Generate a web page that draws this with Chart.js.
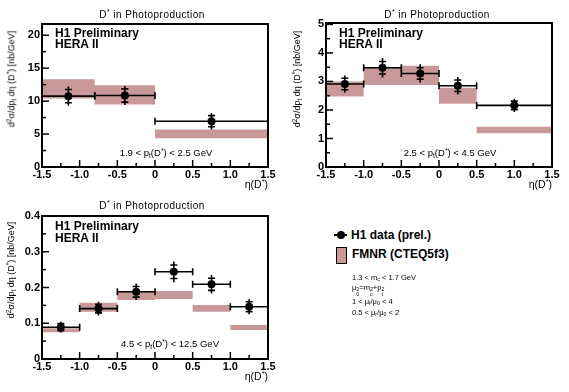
<!DOCTYPE html>
<html>
<head>
<meta charset="utf-8">
<script src="https://cdn.jsdelivr.net/npm/chart.js@4.4.0/dist/chart.umd.min.js"></script>
<style>
body { margin: 0; background: #fff; font-family: "Liberation Sans", Arial, sans-serif; color: #000; }
#page { position: relative; width: 569px; height: 392px; overflow: hidden; }
canvas { position: absolute; }
.t { position: absolute; white-space: nowrap; line-height: 1; }
.c { transform: translate(-50%, -50%); }
.l { transform: translate(0, -50%); }
.r { transform: translate(-100%, -50%); }
.title { font-size: 10px; letter-spacing: 0.45px; }
.big { font-size: 12px; font-weight: bold; }
.pt { font-size: 9.5px; }
.eta { font-size: 10.5px; }
.ylab { font-size: 9px; transform: translate(-50%, -50%) rotate(-90deg); }
.small { font-size: 7.5px; filter: grayscale(100%); }
.sup { font-size: 70%; vertical-align: 0.5em; }
.sub { font-size: 70%; vertical-align: -0.3em; }
.stk { display: inline-flex; flex-direction: column; font-size: 70%; line-height: 0.9; vertical-align: -0.25em; }
</style>
</head>
<body>
<div id="page">
  <canvas id="c1" width="285" height="195" style="left:0;top:0"></canvas>
  <canvas id="c2" width="284" height="195" style="left:285px;top:0"></canvas>
  <canvas id="c3" width="285" height="197" style="left:0;top:195px"></canvas>

  <!-- panel 1 -->
  <div class="t c title" style="left:152px;top:14px">D<span class="sup">*</span> in Photoproduction</div>
  <div class="t l big" style="left:55px;top:33px">H1 Preliminary</div>
  <div class="t l big" style="left:55px;top:44px">HERA II</div>
  <div class="t c pt" style="left:166px;top:154px">1.9 &lt; p<span class="sub">t</span>(D<span class="sup">*</span>) &lt; 2.5 GeV</div>
  <div class="t ylab" style="left:12px;top:79px">d<span class="sup">2</span>σ/dp<span class="sub">t</span> dη (D<span class="sup">*</span>) [nb/GeV]</div>
  <div class="t r eta" style="left:268px;top:184px">η(D<span class="sup">*</span>)</div>

  <!-- panel 2 -->
  <div class="t c title" style="left:437px;top:14px">D<span class="sup">*</span> in Photoproduction</div>
  <div class="t l big" style="left:339px;top:33px">H1 Preliminary</div>
  <div class="t l big" style="left:339px;top:44px">HERA II</div>
  <div class="t c pt" style="left:450px;top:154px">2.5 &lt; p<span class="sub">t</span>(D<span class="sup">*</span>) &lt; 4.5 GeV</div>
  <div class="t ylab" style="left:298px;top:79px">d<span class="sup">2</span>σ/dp<span class="sub">t</span> dη (D<span class="sup">*</span>) [nb/GeV]</div>
  <div class="t r eta" style="left:552px;top:184px">η(D<span class="sup">*</span>)</div>

  <!-- panel 3 -->
  <div class="t c title" style="left:152px;top:205px">D<span class="sup">*</span> in Photoproduction</div>
  <div class="t l big" style="left:55px;top:226px">H1 Preliminary</div>
  <div class="t l big" style="left:55px;top:238px">HERA II</div>
  <div class="t c pt" style="left:170px;top:345px">4.5 &lt; p<span class="sub">t</span>(D<span class="sup">*</span>) &lt; 12.5 GeV</div>
  <div class="t ylab" style="left:12px;top:270px">d<span class="sup">2</span>σ/dp<span class="sub">t</span> dη (D<span class="sup">*</span>) [nb/GeV]</div>
  <div class="t r eta" style="left:268px;top:376px">η(D<span class="sup">*</span>)</div>

  <!-- legend -->
  <div style="position:absolute;left:334px;top:234px;width:13px;height:2px;background:#000"></div>
  <div style="position:absolute;left:337px;top:231px;width:8px;height:8px;border-radius:50%;background:#000"></div>
  <div class="t l big" style="left:351px;top:235px">H1 data (prel.)</div>
  <div style="position:absolute;left:336px;top:247px;width:9px;height:15px;background:#c99999;border:1px solid #000"></div>
  <div class="t l big" style="left:352px;top:254px">FMNR (CTEQ5f3)</div>
  <div class="t l small" style="left:352px;top:278px">1.3 &lt; m<span class="sub">c</span> &lt; 1.7 GeV</div>
  <div class="t l small" style="left:352px;top:290px">μ<span class="stk"><span>2</span><span>0</span></span>=m<span class="stk"><span>2</span><span>c</span></span>+p<span class="stk"><span>2</span><span>t</span></span></div>
  <div class="t l small" style="left:352px;top:302px">1 &lt; μ<span class="sub">f</span>/μ<span class="sub">0</span> &lt; 4</div>
  <div class="t l small" style="left:352px;top:313px">0.5 &lt; μ<span class="sub">r</span>/μ<span class="sub">0</span> &lt; 2</div>
</div>

<script>
// pt(D*) 1.9 - 2.5 GeV
const edges1 = [-1.5, -0.8, 0, 1.5];
const eta1 = [-1.15, -0.4, 0.75];
const h1Val1 = [10.75, 10.85, 6.95];
const h1Stat1 = [1.0, 1.0, 0.85];
const h1Tot1 = [1.45, 1.45, 1.25];
const fmnrLo1 = [10.4, 9.5, 4.35];
const fmnrHi1 = [13.3, 12.4, 5.7];

// pt(D*) 2.5 - 4.5 GeV
const edges2 = [-1.5, -1, -0.5, 0, 0.5, 1.5];
const eta2 = [-1.25, -0.75, -0.25, 0.25, 1.0];
const h1Val2 = [2.91, 3.48, 3.28, 2.85, 2.16];
const h1Stat2 = [0.2, 0.22, 0.2, 0.2, 0.15];
const h1Tot2 = [0.3, 0.34, 0.32, 0.31, 0.23];
const fmnrLo2 = [2.47, 2.88, 2.88, 2.22, 1.18];
const fmnrHi2 = [3.0, 3.48, 3.55, 2.78, 1.41];

// pt(D*) 4.5 - 12.5 GeV
const edges3 = [-1.5, -1, -0.5, 0, 0.5, 1, 1.5];
const eta3 = [-1.25, -0.75, -0.25, 0.25, 0.75, 1.25];
const h1Val3 = [0.089, 0.141, 0.188, 0.244, 0.209, 0.146];
const h1Stat3 = [0.010, 0.012, 0.015, 0.019, 0.017, 0.014];
const h1Tot3 = [0.015, 0.019, 0.023, 0.029, 0.026, 0.021];
const fmnrLo3 = [0.075, 0.132, 0.165, 0.168, 0.132, 0.081];
const fmnrHi3 = [0.086, 0.157, 0.188, 0.19, 0.151, 0.095];

const etaTicks = [-1.5, -1, -0.5, 0, 0.5, 1, 1.5];
const bandColor = '#c99999';
const tickFont = { family: '"Liberation Sans", Arial, sans-serif', size: 11, weight: 'bold' };

// histogram-like step data: one point per left edge, plus the last right edge
function stepData(edges, vals) {
  const d = vals.map((v, i) => ({ x: edges[i], y: v }));
  d.push({ x: edges[edges.length - 1], y: vals[vals.length - 1] });
  return d;
}

// ROOT style frame with inward ticks
const rootFrame = {
  id: 'rootFrame',
  afterDraw(chart) {
    const { ctx, chartArea: a, scales: { x, y } } = chart;
    ctx.save();
    ctx.strokeStyle = '#000';
    ctx.lineWidth = 2;
    ctx.strokeRect(a.left, a.top, a.right - a.left, a.bottom - a.top);
    ctx.lineWidth = 1.5;
    const yt = y.ticks.map(t => t.value);
    const ystep = yt[1] - yt[0];
    yt.forEach(v => {
      const p = y.getPixelForValue(v);
      ctx.beginPath(); ctx.moveTo(a.left, p); ctx.lineTo(a.left + 7, p); ctx.stroke();
      const m = y.getPixelForValue(v + ystep / 2);
      if (m > a.top + 1) { ctx.beginPath(); ctx.moveTo(a.left, m); ctx.lineTo(a.left + 4, m); ctx.stroke(); }
    });
    const xt = x.ticks.map(t => t.value);
    const xstep = xt[1] - xt[0];
    xt.forEach(v => {
      const p = x.getPixelForValue(v);
      ctx.beginPath(); ctx.moveTo(p, a.bottom); ctx.lineTo(p, a.bottom - 7); ctx.stroke();
      const m = x.getPixelForValue(v + xstep / 2);
      if (m < a.right - 1) { ctx.beginPath(); ctx.moveTo(m, a.bottom); ctx.lineTo(m, a.bottom - 4); ctx.stroke(); }
    });
    ctx.restore();
  }
};

// bin-width x bars and stat / total y errors for the H1 points
function errorBars(edges, eta, val, stat, tot) {
  return {
    id: 'h1Bars',
    afterDatasetsDraw(chart) {
      const { ctx, scales: { x, y } } = chart;
      ctx.save();
      ctx.strokeStyle = '#000';
      ctx.lineWidth = 1.6;
      eta.forEach((e, i) => {
        const px = x.getPixelForValue(e);
        const py = y.getPixelForValue(val[i]);
        const xl = x.getPixelForValue(edges[i]);
        const xr = x.getPixelForValue(edges[i + 1]);
        ctx.beginPath();
        ctx.moveTo(xl, py); ctx.lineTo(xr, py);
        ctx.moveTo(xl, py - 3.5); ctx.lineTo(xl, py + 3.5);
        ctx.moveTo(xr, py - 3.5); ctx.lineTo(xr, py + 3.5);
        ctx.moveTo(px, y.getPixelForValue(val[i] + tot[i]));
        ctx.lineTo(px, y.getPixelForValue(val[i] - tot[i]));
        [val[i] + stat[i], val[i] - stat[i]].forEach(s => {
          const sy = y.getPixelForValue(s);
          ctx.moveTo(px - 3.5, sy); ctx.lineTo(px + 3.5, sy);
        });
        ctx.stroke();
      });
      ctx.restore();
    }
  };
}

function makePanel(id, edges, eta, val, stat, tot, lo, hi, yMax, yStep, box) {
  return new Chart(document.getElementById(id), {
    type: 'line',
    data: {
      datasets: [
        { data: stepData(edges, hi), order: 1, stepped: 'before', borderWidth: 0, borderColor: 'rgba(0,0,0,0)', pointRadius: 0, fill: false },
        { data: stepData(edges, lo), order: 1, stepped: 'before', borderWidth: 0, borderColor: 'rgba(0,0,0,0)', pointRadius: 0, fill: '-1', backgroundColor: bandColor },
        { data: eta.map((e, i) => ({ x: e, y: val[i] })), order: 0, showLine: false, pointRadius: 4, pointBackgroundColor: '#000', pointBorderColor: '#000', pointBorderWidth: 0 }
      ]
    },
    options: {
      responsive: false,
      animation: false,
      events: [],
      layout: { padding: { left: 0, top: box.top, right: box.right, bottom: 0 } },
      plugins: { legend: { display: false }, tooltip: { enabled: false } },
      scales: {
        x: {
          type: 'linear', min: -1.5, max: 1.5,
          afterBuildTicks: s => { s.ticks = etaTicks.map(v => ({ value: v })); },
          afterFit: s => { s.height = box.xh; },
          grid: { display: false, drawTicks: false },
          border: { display: false },
          ticks: { font: tickFont, color: '#000', padding: 1, maxRotation: 0, autoSkip: false }
        },
        y: {
          min: 0, max: yMax,
          afterFit: s => { s.width = box.yw; },
          grid: { display: false, drawTicks: false },
          border: { display: false },
          ticks: { stepSize: yStep, includeBounds: false, font: tickFont, color: '#000', padding: 2 }
        }
      }
    },
    plugins: [rootFrame, errorBars(edges, eta, val, stat, tot)]
  });
}

makePanel('c1', edges1, eta1, h1Val1, h1Stat1, h1Tot1, fmnrLo1, fmnrHi1, 21.7, 5, { top: 24, right: 17, xh: 28, yw: 42 });
makePanel('c2', edges2, eta2, h1Val2, h1Stat2, h1Tot2, fmnrLo2, fmnrHi2, 5.05, 1, { top: 23, right: 17, xh: 28, yw: 41 });
makePanel('c3', edges3, eta3, h1Val3, h1Stat3, h1Tot3, fmnrLo3, fmnrHi3, 0.4, 0.1, { top: 21, right: 17, xh: 33, yw: 42 });
</script>
</body>
</html>
